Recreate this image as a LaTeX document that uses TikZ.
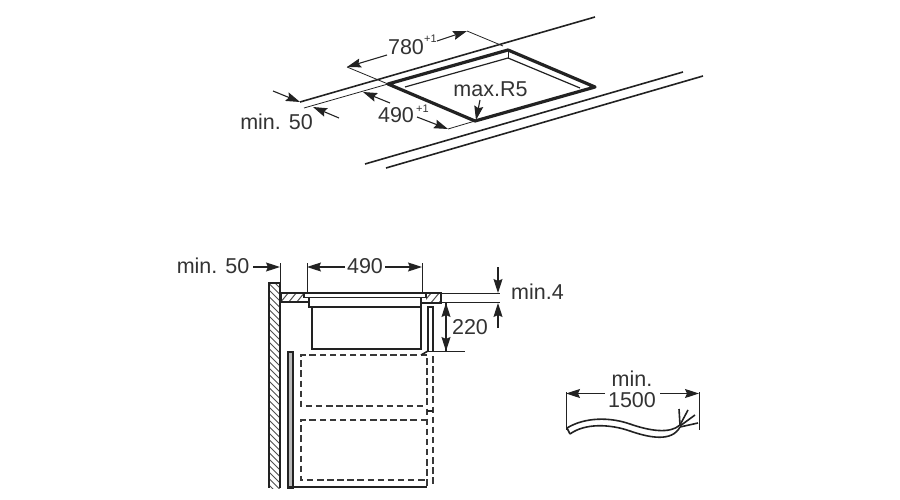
\documentclass[tikz,border=0pt]{standalone}
\usepackage{fontspec}
\setmainfont{Liberation Sans}
\usetikzlibrary{arrows.meta}
\definecolor{inkc}{HTML}{222222}
\definecolor{textc}{HTML}{333333}
\tikzset{
  thinl/.style={draw=inkc,line width=0.8pt},
  midl/.style={draw=inkc,line width=1.6pt},
  thickl/.style={draw=inkc,line width=3.2pt,line join=round},
  dashl/.style={draw=inkc!90,line width=1.8pt,dash pattern=on 6.5pt off 3.6pt},
  hatchl/.style={draw=inkc!80,line width=1pt},
  dimarrow/.style={draw=inkc,line width=1.1pt,-{Stealth[length=14pt,width=9pt,inset=2pt]}},
  lbl/.style={text=textc,inner sep=0pt,font=\fontsize{21.5}{24}\selectfont},
  suplbl/.style={text=textc,inner sep=0pt,font=\fontsize{11}{12}\selectfont}
}
\begin{document}
\begin{tikzpicture}[x=1pt,y=-1pt]
\useasboundingbox (0,0) rectangle (900,500);
% plan view of the cut-out
\coordinate (cutL) at (388,84);
\coordinate (cutB) at (508,50);
\coordinate (cutR) at (595,87);
\coordinate (cutF) at (475,121);
\draw [midl] (300,102) -- (595,17);
\draw [thinl] (304,108) -- (cutL);
\draw [midl] (365,164) -- (683,72);
\draw [midl] (386,168) -- (703,76);
\draw [thickl] (cutL) -- (cutB) -- (cutR) -- (cutF) -- cycle;
\coordinate (inL) at (405,87);
\coordinate (inB) at (508,58);
\coordinate (inR) at (580,88);
\draw [thinl,line width=1.2pt] (inL) -- (inB) -- (inR);
\draw [thinl] (cutB) -- (inB);
% dimensions of the cut-out
\coordinate (w1) at (347,67);
\coordinate (w2) at (467,31);
\coordinate (d1) at (363,92);
\coordinate (d2) at (448,129);
\draw [thinl] (w1) -- (cutL);
\draw [thinl] (w2) -- (503,46);
\draw [thinl] (d2) -- (cutF);
\node [lbl] (lblw) at (406,47) {780};
\node [suplbl] (lblwsup) at (430.5,38.5) {+1};
\draw [dimarrow] (387,55) -- (w1);
\draw [dimarrow] (437,41) -- (w2);
\node [lbl] (lbld) at (396,115) {490};
\node [suplbl] (lbldsup) at (422.5,108.5) {+1};
\draw [dimarrow] (390,103) -- (d1);
\draw [dimarrow] (417,117) -- (d2);
\node [lbl] (lblr) at (490.5,89) {max.R5};
\draw [dimarrow] (480,100) -- (476,120);
\node [lbl] (lblm) at (276.5,122) {min. 50};
\coordinate (m1) at (300,102);
\coordinate (m2) at (313,107);
\draw [dimarrow] (273,91) -- (m1);
\draw [dimarrow] (339,118) -- (m2);
% section: wall
\begin{scope}
\clip (269,283) rectangle (280,488);
\foreach \y in {276,282.5,...,490} {
  \draw [hatchl] (268,\y) -- (281,\y+13);
}
\end{scope}
\draw [midl] (280,488) -- (280,283) -- (269,283) -- (269,488);
% section: worktop
\begin{scope}
\clip (281,293) rectangle (304,302);
\foreach \x in {280,288,...,312} {
  \draw [hatchl] (\x,303) -- (\x+9,292);
}
\end{scope}
\draw [midl] (304,293) -- (281,293) -- (281,302) -- (309,302);
\begin{scope}
\clip (426,293) rectangle (441,303);
\foreach \x in {422,430,...,446} {
  \draw [hatchl] (\x,304) -- (\x+10,292);
}
\end{scope}
\draw [midl] (421,303) -- (441,303) -- (441,293) -- (426,293);
% section: appliance
\draw [midl,line width=1.8pt] (304,293) rectangle (426,297.5);
\draw [midl,line width=1.8pt] (309,297.5) -- (309,307) -- (421,307) -- (421,297.5);
\draw [midl] (312,307) -- (312,349) -- (421,349) -- (421,307);
\draw [midl] (428,351) -- (428,307) -- (433,307) -- (433,351);
% section: units
\draw [midl,fill=gray!55,line width=1.1pt] (288,352) rectangle (293,488);
\draw [midl,line width=1.8pt] (288,487) -- (427,487);
\draw [dashl] (427,355) -- (301,355) -- (301,406) -- (427,406);
\draw [dashl] (427,420) -- (301,420) -- (301,480) -- (427,480);
\draw [dashl] (427,358) -- (427,486);
\draw [dashl] (433,356) -- (433,486);
\draw [midl] (421,355) -- (428,351);
\draw [midl] (427,411) -- (433,411);
% dimensions of the section
\coordinate (s1) at (280,267);
\coordinate (s2) at (307,267);
\coordinate (s3) at (422,267);
\coordinate (s4) at (498,293);
\coordinate (s5) at (498,303);
\coordinate (s6) at (446,303);
\coordinate (s7) at (446,351);
\draw [thinl] (280,263) -- (280,283);
\draw [thinl] (307,263) -- (307,293);
\draw [thinl] (422,263) -- (422,293);
\draw [thinl] (441,293) -- (500,293);
\draw [thinl] (441,302.5) -- (500,302.5);
\draw [thinl] (428,351) -- (465,351);
\node [lbl] (lblwall) at (213,266) {min. 50};
\draw [dimarrow] (253,267) -- (s1);
\node [lbl] (lblcut) at (365,266) {490};
\draw [dimarrow] (345,267) -- (s2);
\draw [dimarrow] (385,267) -- (s3);
\node [lbl] (lblgap) at (537.5,292) {min.4};
\draw [dimarrow] (498,267) -- (s4);
\draw [dimarrow] (498,328) -- (s5);
\node [lbl] (lblh) at (470,327) {220};
\draw [dimarrow] (s6) -- (s7);
\draw [dimarrow] (s7) -- (s6);
% cable
\coordinate (c1) at (566,393.5);
\coordinate (c2) at (699,393.5);
\draw [thinl] (566,392) -- (566,430);
\draw [thinl] (699,392) -- (699,430);
\node [lbl] (lblmin) at (632,379) {min.};
\node [lbl] (lbllen) at (632,400) {1500};
\draw [dimarrow] (605,393.5) -- (c1);
\draw [dimarrow] (660,393.5) -- (c2);
\draw [midl] (567,428) .. controls (585,417) and (610,417) .. (630,424) .. controls (650,431) and (670,434) .. (680,425);
\draw [midl] (570,434) .. controls (585,423) and (610,424) .. (630,431) .. controls (650,438) and (672,442) .. (680,427);
\draw [midl] (567,428) -- (570,434);
\draw [midl] (680,425) -- (679,409);
\draw [midl] (680,425) -- (688,410);
\draw [midl] (680,426) -- (695,415);
\draw [midl] (680,427) -- (698,423);
\end{tikzpicture}
\end{document}
